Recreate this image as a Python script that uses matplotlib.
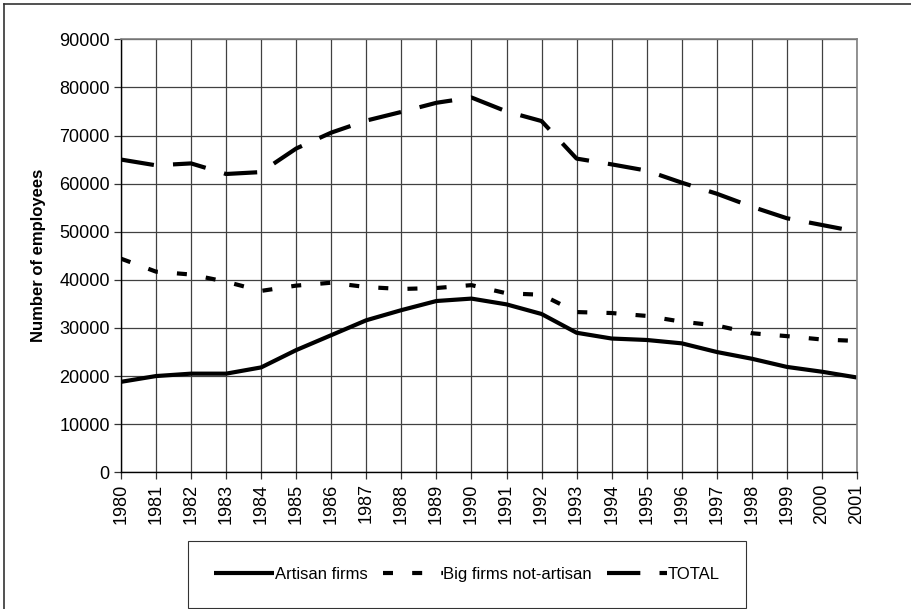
import matplotlib
matplotlib.use("Agg")
import matplotlib.pyplot as plt
from matplotlib.lines import Line2D

plt.rcParams['font.family'] = ['Liberation Sans', 'DejaVu Sans']

# ======================================================
# DATA
# ======================================================
years = list(range(1980, 2002))

artisan = [18800, 20000, 20500, 20500, 21800, 25400, 28500, 31600, 33700, 35600, 36100,
           34900, 32900, 29000, 27800, 27500, 26800, 25000, 23600, 21900, 20900, 19700]

big_firms = [44400, 41700, 41100, 39600, 37700, 38800, 39400, 38500, 38100, 38300, 38900,
             37200, 36900, 33300, 33100, 32500, 31300, 30500, 28900, 28300, 27600, 27300]

total = [65000, 63800, 64200, 62000, 62400, 67300, 70600, 73100, 74900, 76800, 77900,
         75000, 73000, 65200, 64000, 62700, 60200, 57900, 55200, 52800, 51400, 50000]

series_labels = ["Artisan firms", "Big firms not-artisan", "TOTAL"]
y_ticks = list(range(0, 90001, 10000))

# ======================================================
# PLOT
# ======================================================
fig = plt.figure(figsize=(9.11, 6.09), dpi=100)
ax = fig.add_axes([0.1328, 0.2245, 0.8079, 0.711])

lw = 3.0
ax.plot(years, artisan, color="black", lw=lw, solid_capstyle="butt",
        label=series_labels[0])
ax.plot(years, big_firms, color="black", lw=lw, dash_capstyle="butt",
        linestyle=(0, (2.4, 4.6)), label=series_labels[1])
ax.plot(years, total, color="black", lw=lw, dash_capstyle="butt",
        linestyle=(0, (8.0, 4.6)), label=series_labels[2])

ax.set_xlim(1980, 2001)
ax.set_ylim(0, 90000)
ax.set_xticks(years)
ax.set_xticklabels([str(y) for y in years], rotation=90, fontsize=13)
ax.set_yticks(y_ticks)
ax.set_yticklabels([str(v) for v in y_ticks], fontsize=13)
ax.tick_params(direction="out", length=5, width=0.9, color="#333333", pad=3)

ax.grid(True, color="#404040", lw=0.9)
ax.set_axisbelow(True)
for side in ["top", "right"]:
    ax.spines[side].set_color("#808080")
    ax.spines[side].set_linewidth(1.2)
for side in ["left", "bottom"]:
    ax.spines[side].set_color("black")
    ax.spines[side].set_linewidth(1.0)

ax.set_ylabel("Number of employees", fontsize=12, fontweight="bold")
ax.yaxis.set_label_coords(-0.102, 0.5)

leg = fig.legend(loc="center", bbox_to_anchor=(0.5126, 0.0567), ncol=3,
                 fontsize=12, frameon=True, fancybox=False, edgecolor="black",
                 handlelength=3.6, handletextpad=0.05, columnspacing=0.9,
                 borderpad=1.55)
leg.get_frame().set_linewidth(0.8)

# outer figure frame (top and left edges visible)
fig.add_artist(Line2D([4 / 911, 4 / 911], [0, 1 - 4 / 609], transform=fig.transFigure,
                      color="#333333", lw=1.2))
fig.add_artist(Line2D([4 / 911, 1], [1 - 4 / 609, 1 - 4 / 609], transform=fig.transFigure,
                      color="#333333", lw=1.2))

plt.savefig("out.png", dpi=100)
plt.close()
